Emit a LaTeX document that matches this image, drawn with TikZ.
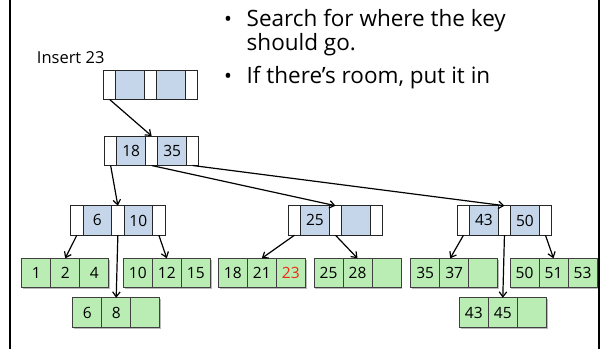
\documentclass[tikz,border=0pt]{standalone}
\usepackage{fontspec}
\setmainfont{Open Sans}
\usetikzlibrary{arrows.meta,shadows}

\definecolor{keyblue}{HTML}{C6D6EA}
\definecolor{leafgreen}{HTML}{B9EDB4}
\definecolor{newred}{HTML}{F02A10}

\tikzset{
  cell/.style={draw=black!85, line width=1pt, inner sep=0pt, outer sep=0pt,
    minimum height=29.5pt, anchor=north west,
    font=\fontsize{15.5}{15.5}\selectfont},
  ptrcell/.style={cell, fill=white, minimum width=12.3pt},
  keycell/.style={cell, fill=keyblue, minimum width=28.7pt},
  leafcell/.style={cell, fill=leafgreen, minimum width=29pt, draw=black!75,
    drop shadow={shadow xshift=1.2pt, shadow yshift=-1.2pt, fill=black!45, opacity=0.6}},
  link/.style={line width=1.2pt, -{Straight Barb[length=5pt,width=7.5pt,line width=1.2pt]}},
  bullettext/.style={anchor=base west, inner sep=0pt, font=\fontsize{22.5}{22.5}\selectfont},
  bulletmark/.style={anchor=base, inner sep=0pt, font=\fontsize{21}{21}\selectfont},
}

% internal node: name, left x, top y, first key, second key
\newcommand\innernode[5]{%
  \node[ptrcell] (#1-p0) at (#2,#3) {};
  \node[keycell] (#1-k1) at (#1-p0.north east) {#4};
  \node[ptrcell] (#1-p1) at (#1-k1.north east) {};
  \node[keycell] (#1-k2) at (#1-p1.north east) {#5};
  \node[ptrcell] (#1-p2) at (#1-k2.north east) {};
}
% leaf node: name, left x, top y, three keys
\newcommand\leafnode[6]{%
  \node[leafcell] (#1-c1) at (#2,#3) {#4};
  \node[leafcell] (#1-c2) at (#1-c1.north east) {#5};
  \node[leafcell] (#1-c3) at (#1-c2.north east) {#6};
}

\begin{document}
\begin{tikzpicture}[x=1pt,y=-1pt]
  \useasboundingbox (0,0) rectangle (602,349);

  % side rules of the slide
  \draw[line width=2.2pt] (10,0) -- (10,349);
  \draw[line width=1.5pt] (599,0) -- (599,349);

  % explanatory bullets
  \node[bulletmark] (m1) at (228,26.5) {\textbullet};
  \node[bullettext] (t1) at (246.5,26.5) {Search for where the key};
  \node[bullettext] (t2) at (246.5,50) {should go.};
  \node[bulletmark] (m2) at (228,83) {\textbullet};
  \node[bullettext] (t3) at (246.5,83) {If there’s room, put it in};

  \node[anchor=base west, inner sep=0pt, font=\fontsize{16.5}{16.5}\selectfont]
    (ins) at (36.7,63.3) {Insert 23};

  % internal nodes
  \innernode{root}{103.5}{70}{}{}
  \innernode{top}{104.5}{136}{18}{35}
  \innernode{na}{70.7}{205.7}{6}{10}
  \innernode{nb}{288.3}{205.7}{25}{}
  \innernode{nc}{457.3}{205.7}{43}{50}

  % leaves
  \leafnode{la}{21.7}{258.3}{1}{2}{4}
  \leafnode{lb}{123.3}{258.3}{10}{12}{15}
  \leafnode{lc}{72.7}{297.8}{6}{8}{}
  \leafnode{ld}{218.3}{258.3}{18}{21}{\textcolor{newred}{23}}
  \leafnode{le}{314}{258.3}{25}{28}{}
  \leafnode{lf}{410.7}{258.3}{35}{37}{}
  \leafnode{lg}{510}{258.3}{50}{51}{53}
  \leafnode{lh}{459.3}{297.8}{43}{45}{}

  % child pointers
  \draw[link] (root-p0.south) -- (top-p1.north);
  \draw[link] (top-p0.south) -- (na-p1.north);
  \draw[link] (top-p1.south) -- (nb-p1.north);
  \draw[link] (top-p2.south) -- (nc-p1.north);

  \draw[link] (na-p0.south) -- (la-c2.north);
  \draw[link] (na-p1.south) -- (lc-c2.north);
  \draw[link] (na-p2.south) -- (lb-c2.north);

  \draw[link] (nb-p0.south) -- (ld-c2.north);
  \draw[link] (nb-p1.south) -- (le-c2.north);

  \draw[link] (nc-p0.south) -- ([xshift=-4pt]lf-c2.north);
  \draw[link] (nc-p1.south) -- (lh-c2.north);
  \draw[link] (nc-p2.south) -- (lg-c2.north);
\end{tikzpicture}
\end{document}
